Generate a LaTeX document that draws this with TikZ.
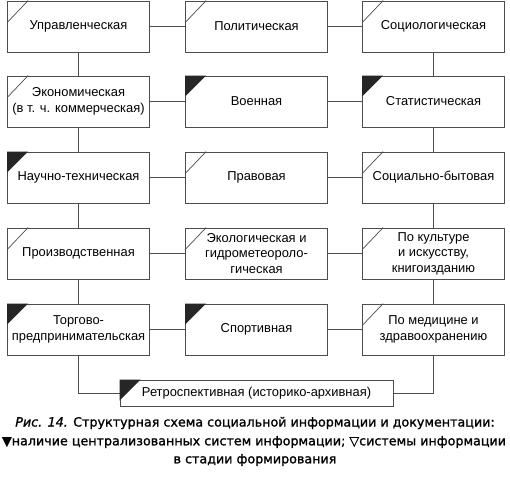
\documentclass[tikz,border=0pt]{standalone}
\usepackage{fontspec}
\setmainfont{Liberation Sans}
\newfontfamily\capfont[FakeBold=1.2]{DejaVu Sans}
\begin{document}
\begin{tikzpicture}[x=1pt,y=-1pt,
  box/.style={draw=black!70,line width=0.8pt,minimum width=142pt,minimum height=51pt,
    align=center,font=\fontsize{12.9}{15.6}\selectfont,inner sep=1pt,fill=white},
  link/.style={draw=black!70,line width=0.8pt},
  capline/.style={font=\capfont\fontsize{12.7}{14}\selectfont,inner sep=0pt}]
\useasboundingbox (0,0) rectangle (510,482);
\def\cA{78.5}\def\cB{256.5}\def\cC{433.5}
% row 1
\node[box] (a1) at (\cA,26.5) {Управленческая};
\node[box] (b1) at (\cB,26.5) {Политическая};
\node[box] (c1) at (\cC,26.5) {Социологическая};
% row 2
\node[box] (a2) at (\cA,101.5) {Экономическая\\(в т. ч. коммерческая)};
\node[box] (b2) at (\cB,101.5) {Военная};
\node[box] (c2) at (\cC,101.5) {Статистическая};
% row 3
\node[box] (a3) at (\cA,177.5) {Научно-техническая};
\node[box] (b3) at (\cB,177.5) {Правовая};
\node[box] (c3) at (\cC,177.5) {Социально-бытовая};
% row 4
\node[box] (a4) at (\cA,253.5) {Производственная};
\node[box] (b4) at (\cB,253.5) {Экологическая и\\гидрометеороло-\\гическая};
\node[box] (c4) at (\cC,253.5) {По культуре\\и искусству,\\книгоизданию};
% row 5
\node[box] (a5) at (\cA,329.5) {Торгово-\\предпринимательская};
\node[box] (b5) at (\cB,329.5) {Спортивная};
\node[box] (c5) at (\cC,329.5) {По медицине и\\здравоохранению};
% row 6
\node[box,minimum width=273pt,minimum height=26pt] (r) at (\cB,393) {Ретроспективная (историко-архивная)};
% connectors
\foreach \i in {1,...,5}{
  \draw[link] (a\i) -- (b\i);
  \draw[link] (b\i) -- (c\i);
}
\foreach \i/\j in {1/2,2/3,3/4,4/5}{
  \draw[link] (a\i) -- (a\j);
  \draw[link] (c\i) -- (c\j);
}
\draw[link] (a5.south) |- (r.west);
\draw[link] (c5.south) |- (r.east);
% marks: open
\foreach \n in {a1,b1,c1,a2,b3,c3,a4,b4,c4,c5}{
  \draw[black!70,line width=0.7pt] ([yshift=-22pt]\n.north west) -- ([xshift=21pt]\n.north west);
}
% marks: filled
\foreach \n in {b2,c2,a3,a5,b5,r}{
  \fill[black!85] ([yshift=-21pt]\n.north west) -- (\n.north west) -- ([xshift=21pt]\n.north west) -- cycle;
}
% caption
\node[capline] (cap1) at (255,423) {\textit{Рис. 14.} Структурная схема социальной информации и документации:};
\node[capline] (cap2) at (254,442) {▼наличие централизованных систем информации; ▽системы информации};
\node[capline] (cap3) at (255,460) {в стадии формирования};
\end{tikzpicture}
\end{document}
